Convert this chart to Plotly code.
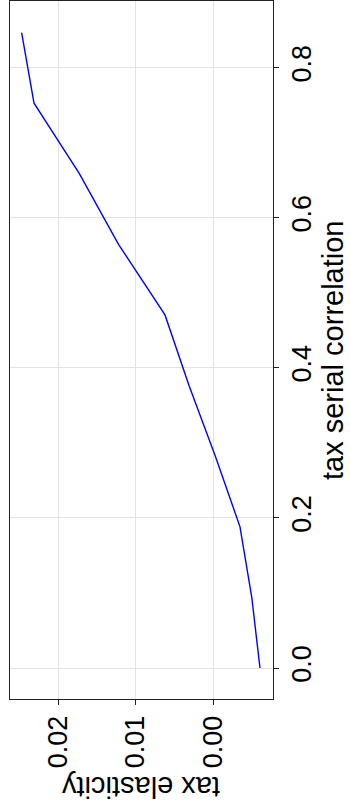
import plotly.graph_objects as go

# data: tax serial correlation vs tax elasticity
serial_corr = [0.0, 0.0941, 0.1882, 0.2823, 0.3764, 0.4706, 0.5647, 0.6588, 0.7529, 0.847]
tax_elasticity = [-0.00606, -0.0050, -0.00348, -0.0003, 0.0031, 0.0062, 0.0122, 0.01725, 0.0231, 0.0247]

corr_ticks = [0.0, 0.2, 0.4, 0.6, 0.8]
corr_ticktext = ["0.0", "0.2", "0.4", "0.6", "0.8"]
elast_ticks = [0.0, 0.01, 0.02]
elast_ticktext = ["0.00", "0.01", "0.02"]

FONT = "Liberation Sans, Arial, sans-serif"

fig = go.Figure()
fig.add_trace(go.Scatter(
    x=tax_elasticity, y=serial_corr, mode="lines",
    line=dict(color="#0000ff", width=1.4), showlegend=False,
))

axis_common = dict(
    showline=True, mirror=True, linecolor="#222222", linewidth=1,
    ticks="outside", ticklen=5, tickcolor="#222222", tickwidth=1,
    showgrid=True, gridcolor="#e3e3e3", gridwidth=1, zeroline=False,
    tickfont=dict(family=FONT, size=27, color="black"),
    tickangle=-90,
)

fig.update_xaxes(
    range=[0.0262, -0.00774], tickvals=elast_ticks, ticktext=elast_ticktext,
    **axis_common,
)
fig.update_yaxes(
    side="right", range=[-0.0413, 0.889], tickvals=corr_ticks, ticktext=corr_ticktext,
    **axis_common,
)

fig.add_annotation(
    text="tax elasticity", xref="paper", yref="paper", x=0.5, y=0,
    yshift=-88, xanchor="center", yanchor="middle", textangle=180,
    showarrow=False, font=dict(family=FONT, size=29, color="black"),
)
fig.add_annotation(
    text="tax serial correlation", xref="paper", yref="paper", x=1, y=0.5,
    xshift=60, xanchor="center", yanchor="middle", textangle=-90,
    showarrow=False, font=dict(family=FONT, size=29, color="black"),
)

fig.update_layout(
    width=350, height=809,
    margin=dict(l=10, r=77, t=1, b=110),
    paper_bgcolor="white", plot_bgcolor="white",
)

fig.write_html("out.html")
